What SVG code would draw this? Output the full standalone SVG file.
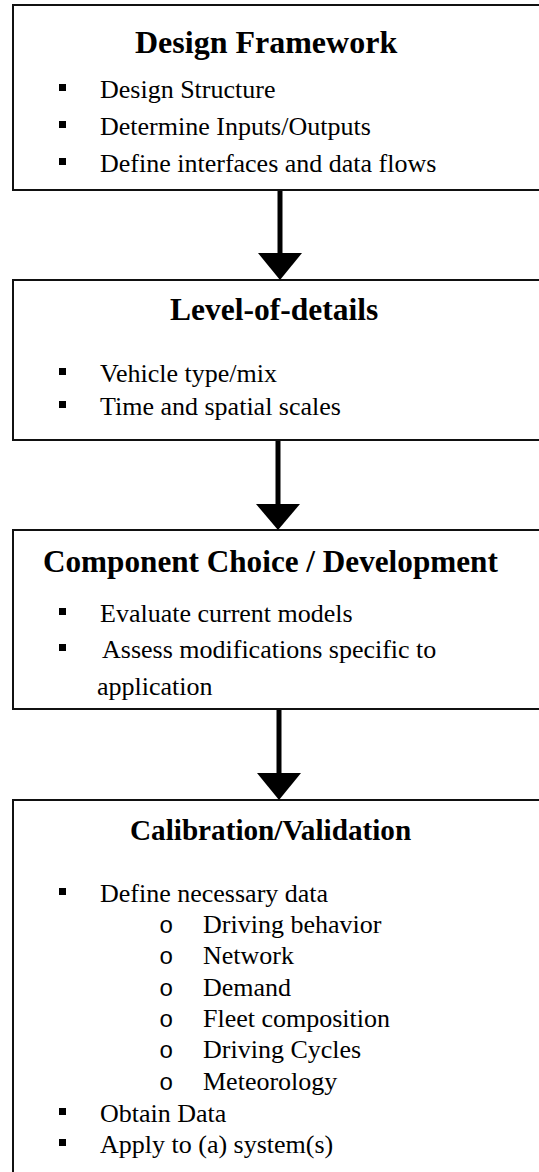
<svg xmlns="http://www.w3.org/2000/svg" width="539" height="1172" viewBox="0 0 539 1172">
  <style>
    .box { fill: #ffffff; stroke: #111111; stroke-width: 2; }
    .title { font-family: "Liberation Serif", "Times New Roman", serif; font-weight: bold; fill: #000000; }
    .item { font-family: "Liberation Serif", "Times New Roman", serif; font-size: 26px; fill: #000000; }
    .sub { font-family: "Liberation Mono", "Courier New", monospace; font-size: 24px; fill: #000000; }
    .sq { fill: #000000; }
    .shaft { stroke: #000000; stroke-width: 5; }
    .head { fill: #000000; }
  </style>

  <!-- Step 1 -->
  <g id="design-framework">
    <rect class="box" x="13" y="5" width="540" height="185"/>
    <text class="title" x="135" y="53" font-size="32">Design Framework</text>
    <rect class="sq" x="59" y="84" width="7" height="7"/>
    <text class="item" x="100" y="98">Design Structure</text>
    <rect class="sq" x="59" y="121" width="7" height="7"/>
    <text class="item" x="100" y="135">Determine Inputs/Outputs</text>
    <rect class="sq" x="59" y="158" width="7" height="7"/>
    <text class="item" x="100" y="172">Define interfaces and data flows</text>
  </g>

  <!-- Step 2 -->
  <g id="level-of-details">
    <rect class="box" x="13" y="280" width="540" height="160"/>
    <text class="title" x="170" y="320" font-size="31.5">Level-of-details</text>
    <rect class="sq" x="59" y="368" width="7" height="7"/>
    <text class="item" x="100" y="382">Vehicle type/mix</text>
    <rect class="sq" x="59" y="401" width="7" height="7"/>
    <text class="item" x="100" y="415">Time and spatial scales</text>
  </g>

  <!-- Step 3 -->
  <g id="component-choice">
    <rect class="box" x="13" y="530" width="540" height="179"/>
    <text class="title" x="43" y="572" font-size="31.2">Component Choice / Development</text>
    <rect class="sq" x="59" y="608" width="7" height="7"/>
    <text class="item" x="100" y="622">Evaluate current models</text>
    <rect class="sq" x="59" y="644" width="7" height="7"/>
    <text class="item" x="102" y="658">Assess modifications specific to</text>
    <text class="item" x="97" y="695">application</text>
  </g>

  <!-- Step 4 -->
  <g id="calibration-validation">
    <rect class="box" x="13" y="800" width="540" height="400"/>
    <text class="title" x="130" y="840" font-size="29.2">Calibration/Validation</text>
    <rect class="sq" x="59" y="888" width="7" height="7"/>
    <text class="item" x="100" y="902">Define necessary data</text>
    <text class="sub" x="159" y="933">o</text>
    <text class="item" x="203" y="933">Driving behavior</text>
    <text class="sub" x="159" y="964">o</text>
    <text class="item" x="203" y="964">Network</text>
    <text class="sub" x="159" y="996">o</text>
    <text class="item" x="203" y="996">Demand</text>
    <text class="sub" x="159" y="1027">o</text>
    <text class="item" x="203" y="1027">Fleet composition</text>
    <text class="sub" x="159" y="1058">o</text>
    <text class="item" x="203" y="1058">Driving Cycles</text>
    <text class="sub" x="159" y="1090">o</text>
    <text class="item" x="203" y="1090">Meteorology</text>
    <rect class="sq" x="59" y="1108" width="7" height="7"/>
    <text class="item" x="100" y="1122">Obtain Data</text>
    <rect class="sq" x="59" y="1139" width="7" height="7"/>
    <text class="item" x="100" y="1153">Apply to (a) system(s)</text>
  </g>

  <!-- Flow arrows between steps -->
  <g id="connectors">
    <line class="shaft" x1="280" y1="191" x2="280" y2="254"/>
    <polygon class="head" points="258,253 302,253 280,280"/>
    <line class="shaft" x1="278" y1="441" x2="278" y2="505"/>
    <polygon class="head" points="256,504 300,504 278,530"/>
    <line class="shaft" x1="279" y1="710" x2="279" y2="774"/>
    <polygon class="head" points="257,773 301,773 279,800"/>
  </g>
</svg>
